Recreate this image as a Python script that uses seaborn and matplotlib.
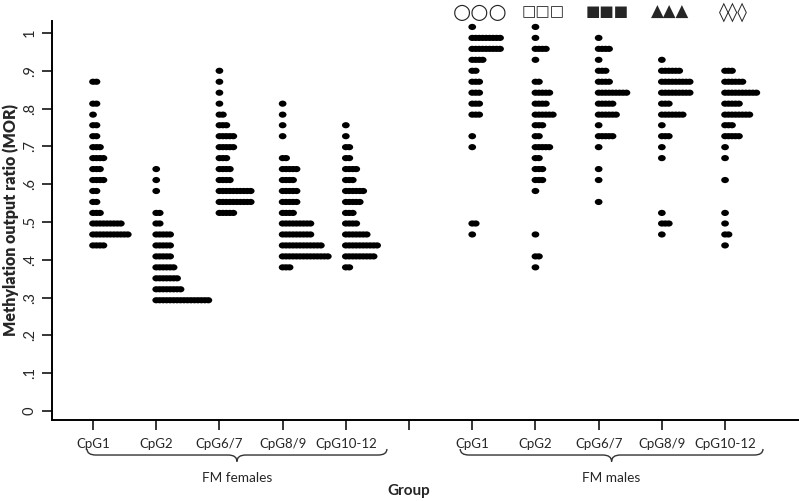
import numpy as np
import pandas as pd
import matplotlib
matplotlib.use('Agg')
import matplotlib.pyplot as plt
import seaborn as sns
from matplotlib.path import Path
from matplotlib.patches import PathPatch
from matplotlib.transforms import Affine2D, blended_transform_factory

sites = ['CpG1', 'CpG2', 'CpG6/7', 'CpG8/9', 'CpG10-12']

f_cpg1_mor = [0.871, 0.813, 0.784, 0.756, 0.727, 0.698, 0.669, 0.640, 0.611, 0.582, 0.553, 0.524, 0.496, 0.467, 0.438]
f_cpg1_n = [2, 2, 1, 2, 2, 3, 4, 3, 4, 2, 2, 3, 9, 11, 4]
f_cpg2_mor = [0.640, 0.611, 0.582, 0.524, 0.496, 0.467, 0.438, 0.409, 0.380, 0.351, 0.322, 0.293]
f_cpg2_n = [1, 1, 1, 2, 2, 5, 5, 5, 6, 7, 8, 16]
f_cpg67_mor = [0.900, 0.871, 0.842, 0.813, 0.784, 0.756, 0.727, 0.698, 0.669, 0.640, 0.611, 0.582, 0.553, 0.524]
f_cpg67_n = [1, 1, 1, 1, 2, 3, 5, 5, 3, 4, 4, 10, 10, 5]
f_cpg89_mor = [0.813, 0.784, 0.756, 0.727, 0.669, 0.640, 0.611, 0.582, 0.553, 0.524, 0.496, 0.467, 0.438, 0.409, 0.380]
f_cpg89_n = [1, 1, 1, 1, 2, 5, 4, 5, 5, 4, 9, 9, 12, 14, 3]
f_cpg1012_mor = [0.756, 0.727, 0.698, 0.669, 0.640, 0.611, 0.582, 0.553, 0.524, 0.496, 0.467, 0.438, 0.409, 0.380]
f_cpg1012_n = [1, 1, 2, 2, 4, 3, 6, 5, 3, 4, 7, 10, 9, 2]

m_cpg1_mor = [1.016, 0.987, 0.958, 0.929, 0.900, 0.871, 0.842, 0.813, 0.784, 0.727, 0.698, 0.496, 0.467]
m_cpg1_n = [1, 9, 9, 4, 2, 3, 3, 3, 3, 1, 1, 2, 1]
m_cpg2_mor = [1.016, 0.987, 0.958, 0.929, 0.871, 0.842, 0.813, 0.784, 0.756, 0.727, 0.698, 0.669, 0.640, 0.611, 0.582, 0.467, 0.409, 0.380]
m_cpg2_n = [1, 1, 4, 1, 2, 5, 4, 6, 3, 2, 5, 2, 3, 3, 1, 1, 2, 1]
m_cpg67_mor = [0.987, 0.958, 0.929, 0.900, 0.871, 0.842, 0.813, 0.784, 0.756, 0.727, 0.698, 0.640, 0.611, 0.553]
m_cpg67_n = [1, 4, 1, 3, 4, 9, 5, 6, 1, 5, 1, 1, 1, 1]
m_cpg89_mor = [0.929, 0.900, 0.871, 0.842, 0.813, 0.784, 0.756, 0.727, 0.698, 0.669, 0.524, 0.496, 0.467]
m_cpg89_n = [1, 6, 9, 9, 3, 7, 1, 3, 1, 1, 1, 3, 1]
m_cpg1012_mor = [0.900, 0.871, 0.842, 0.813, 0.784, 0.756, 0.727, 0.698, 0.669, 0.611, 0.524, 0.496, 0.467, 0.438]
m_cpg1012_n = [3, 6, 10, 5, 8, 3, 5, 1, 1, 1, 1, 1, 2, 1]

columns = [
    (1, f_cpg1_mor, f_cpg1_n), (2, f_cpg2_mor, f_cpg2_n), (3, f_cpg67_mor, f_cpg67_n),
    (4, f_cpg89_mor, f_cpg89_n), (5, f_cpg1012_mor, f_cpg1012_n),
    (7, m_cpg1_mor, m_cpg1_n), (8, m_cpg2_mor, m_cpg2_n), (9, m_cpg67_mor, m_cpg67_n),
    (10, m_cpg89_mor, m_cpg89_n), (11, m_cpg1012_mor, m_cpg1012_n),
]

DOT_STEP = 0.055  # horizontal spacing of stacked dots (x units)

frames = []
for pos, mor, n in columns:
    d = pd.DataFrame({'mor': np.repeat(mor, n)})
    d['rank'] = d.groupby('mor').cumcount()
    d['x'] = pos + d['rank'] * DOT_STEP
    frames.append(d)
df = pd.concat(frames, ignore_index=True)

sns.set_style('white')
plt.rcParams['font.family'] = ['Lato', 'DejaVu Sans']

fig = plt.figure(figsize=(7.99, 5.01), dpi=100)
ax = fig.add_axes([52 / 799, 1 - 420 / 501, 747 / 799, 399.3 / 501])

ellipse = Path.unit_circle().transformed(Affine2D().scale(1.0, 0.8))
sns.scatterplot(data=df, x='x', y='mor', marker=ellipse, s=31, color='black',
                edgecolor='none', linewidth=0, ax=ax, legend=False)

ax.set_xlim(0.351, 12.17)
ax.set_ylim(-0.0238, 1.0325)

for side in ['top', 'right']:
    ax.spines[side].set_visible(False)
for side in ['left', 'bottom']:
    ax.spines[side].set_color('black')
    ax.spines[side].set_linewidth(1.4)

yt = np.round(np.arange(0, 1.01, 0.1), 1)
ax.set_yticks(yt)
ax.set_yticklabels(['0'] + ['.%d' % round(v * 10) for v in yt[1:-1]] + ['1'],
                   rotation=90, va='center', fontsize=10.5)
ax.set_xticks(list(range(1, 12)))
ax.set_xticklabels(sites + [''] + sites, fontsize=9.5)
ax.tick_params(axis='both', length=7, width=1.1, color='black', direction='out',
               left=True, bottom=True, pad=4)
ax.tick_params(axis='x', pad=6)
ax.set_xlabel('')
ax.set_ylabel('')

# group braces under the tick labels
tr = blended_transform_factory(ax.transData, ax.transAxes)


def brace(x0, x1, y_end=-0.0726, y_mid=-0.0877, y_tip=-0.104, r=0.14):
    xc = (x0 + x1) / 2
    verts = [(x0, y_end), (x0, y_mid), (x0 + r, y_mid), (xc - r, y_mid),
             (xc, y_mid), (xc, y_tip), (xc, y_mid), (xc + r, y_mid),
             (x1 - r, y_mid), (x1, y_mid), (x1, y_end)]
    codes = [Path.MOVETO, Path.CURVE3, Path.CURVE3, Path.LINETO,
             Path.CURVE3, Path.CURVE3, Path.CURVE3, Path.CURVE3,
             Path.LINETO, Path.CURVE3, Path.CURVE3]
    ax.add_patch(PathPatch(Path(verts, codes), transform=tr, fill=False,
                           lw=1.0, color='#333333', clip_on=False))
    return xc


xf = brace(0.905, 5.65)
xm = brace(6.81, 11.6)
ax.text(xf, -0.146, 'FM females', transform=tr, ha='center', va='center', fontsize=9.8)
ax.text(xm, -0.146, 'FM males', transform=tr, ha='center', va='center', fontsize=9.8)
ax.text(6.0, -0.178, 'Group', transform=tr, ha='center', va='center',
        fontsize=11, fontweight='bold')
fig.text(11 / 799, 1 - 220 / 501, 'Methylation output ratio (MOR)', rotation=90,
         ha='center', va='center', fontsize=11.5, fontweight='heavy')

# symbols marking the male sites
symbols = ['\u25cb\u25cb\u25cb', '\u25a1\u25a1\u25a1', '\u25a0\u25a0\u25a0',
           '\u25b2\u25b2\u25b2', '\u25ca\u25ca\u25ca']
sym_sizes = [15, 11, 11, 12, 14]
for pos, sym, fs in zip(range(7, 12), symbols, sym_sizes):
    ax.text(pos + 0.13, 1.056, sym, ha='center', va='center', fontsize=fs,
            family='DejaVu Sans', clip_on=False)

fig.savefig('out.png', dpi=100)
